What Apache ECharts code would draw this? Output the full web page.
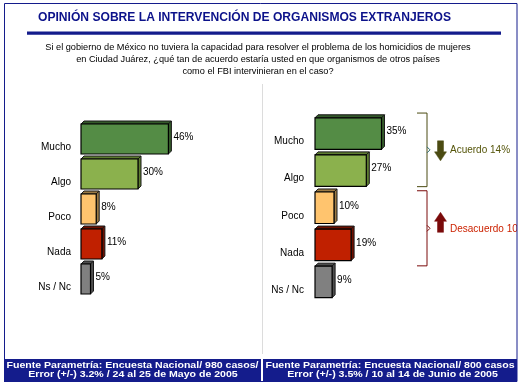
<!DOCTYPE html>
<html><head><meta charset="utf-8">
<script src="https://cdn.jsdelivr.net/npm/echarts@6/dist/echarts.min.js"></script>
<style>html,body{margin:0;padding:0;background:#fff}#c{width:521px;height:391px}</style>
</head><body><div id="c"></div>
<script>
var categories = ['Mucho', 'Algo', 'Poco', 'Nada', 'Ns / Nc'];
var valuesMayo = [46, 30, 8, 11, 5];
var valuesJunio = [35, 27, 10, 19, 9];
var frontColors = ['#548c45', '#8bb14d', '#ffc46e', '#c02000', '#808080'];
var sideColors = ['#345a2a', '#5d7c30', '#9c7a44', '#6e1000', '#4e4e4e'];
var titleText = 'OPINIÓN SOBRE LA INTERVENCIÓN DE ORGANISMOS EXTRANJEROS';
var questionLines = [
  'Si el gobierno de México no tuviera la capacidad para resolver el problema de los homicidios de mujeres',
  'en Ciudad Juárez, ¿qué tan de acuerdo estaría usted en que organismos de otros países',
  'como el FBI intervinieran en el caso?'
];
var footerLeft = ['Fuente Parametría: Encuesta Nacional/ 980 casos/', 'Error (+/-) 3.2% / 24 al 25 de Mayo de 2005'];
var footerRight = ['Fuente Parametría: Encuesta Nacional/ 800 casos', 'Error (+/-) 3.5% / 10 al 14 de Junio de 2005'];
var acuerdoText = 'Acuerdo 14%';
var desacuerdoText = 'Desacuerdo 10%';

var FONT = 'Liberation Sans';
var D = 3;

function makeRender(ratio) {
  return function (params, api) {
    var v = api.value(0), idx = api.value(1);
    var s = api.coord([0, idx]);
    var e = api.coord([v, idx]);
    var bh = api.size([0, 1])[1] * ratio;
    var x0 = s[0], x1 = e[0], y0 = s[1] - bh / 2, y1 = s[1] + bh / 2;
    var i = params.dataIndex;
    var side = sideColors[i];
    return {
      type: 'group',
      children: [
        { type: 'polygon', shape: { points: [[x0, y0], [x0 + D, y0 - D], [x1 + D, y0 - D], [x1, y0]] },
          style: { fill: side, stroke: '#1a1a1a', lineWidth: 1 } },
        { type: 'polygon', shape: { points: [[x1, y0], [x1 + D, y0 - D], [x1 + D, y1 - D], [x1, y1]] },
          style: { fill: side, stroke: '#1a1a1a', lineWidth: 1 } },
        { type: 'rect', shape: { x: x0, y: y0, width: x1 - x0, height: bh },
          style: { fill: frontColors[i], stroke: '#000', lineWidth: 1.2 } },
        { type: 'text', x: x1 + D + 2, y: s[1] - 2,
          style: { text: v + '%', fill: '#000', font: '10px "' + FONT + '"', verticalAlign: 'middle', align: 'left' } }
      ]
    };
  };
}

function yAx(gridIndex, margin) {
  return {
    type: 'category', gridIndex: gridIndex, data: categories, inverse: true,
    axisLine: { show: false }, axisTick: { show: false }, splitLine: { show: false },
    axisLabel: { margin: margin, color: '#000', fontFamily: FONT, fontSize: 10,
      verticalAlign: 'top', lineHeight: 16 }
  };
}
function xAx(gridIndex) {
  return { type: 'value', gridIndex: gridIndex, min: 0, max: 100, show: false, splitLine: { show: false } };
}

var chart = echarts.init(document.getElementById('c'), null, { renderer: 'canvas' });
var option = {
  animation: false,
  grid: [
    { left: 81, top: 121.5, width: 190, height: 175 },
    { left: 315, top: 115, width: 190, height: 185.5 }
  ],
  xAxis: [xAx(0), xAx(1)],
  yAxis: [yAx(0, 10), yAx(1, 11)],
  series: [
    { type: 'custom', xAxisIndex: 0, yAxisIndex: 0, renderItem: makeRender(0.857),
      encode: { x: 0, y: 1 }, data: valuesMayo.map(function (v, i) { return [v, i]; }) },
    { type: 'custom', xAxisIndex: 1, yAxisIndex: 1, renderItem: makeRender(0.85),
      encode: { x: 0, y: 1 }, data: valuesJunio.map(function (v, i) { return [v, i]; }) }
  ]
};
chart.setOption(option);

// annotations
var cy = function (cat) { return chart.convertToPixel({ yAxisIndex: 1 }, cat); };
var aTop = cy('Mucho') - 20.5, aBot = cy('Algo') + 16, aMid = (aTop + aBot) / 2;
var dTop = cy('Poco') - 17, dBot = cy('Nada') + 21, dMid = (dTop + dBot) / 2;
var BX = 427, BL = 417;
var olive = '#4b4b12', red = '#7a0a0a';

function bracket(top, bot, mid, color, tipColor) {
  return [
    { type: 'polyline', shape: { points: [[BL, top], [BX, top], [BX, bot], [BL, bot]] },
      style: { stroke: color, lineWidth: 1, fill: null } },
    { type: 'polyline', shape: { points: [[BX, mid - 3], [BX + 3, mid], [BX, mid + 3]] },
      style: { stroke: tipColor, lineWidth: 1, fill: null } }
  ];
}

function footText(x, y, t) {
  return { type: 'text', x: x, y: y, scaleX: 1.23,
    style: { text: t, fill: '#fff', font: 'bold 8.6px "' + FONT + '"', align: 'center', verticalAlign: 'middle' } };
}

var g = [
  // outer frame
  { type: 'rect', shape: { x: 4.5, y: 3.5, width: 512.5, height: 378 }, style: { fill: null, stroke: '#141c8c', lineWidth: 1 }, z: 10 },
  // title
  { type: 'text', x: 244.5, y: 18, style: { text: titleText, fill: '#0c128a', font: 'bold 12.1px "' + FONT + '"', align: 'center', verticalAlign: 'middle' } },
  { type: 'rect', shape: { x: 27, y: 31.5, width: 474, height: 3.2 }, style: { fill: '#141c8c' } },
  // divider
  { type: 'line', shape: { x1: 262.5, y1: 84, x2: 262.5, y2: 354 }, style: { stroke: '#dcdcdc', lineWidth: 1 } },
  // footer
  { type: 'rect', shape: { x: 4, y: 359, width: 257, height: 23 }, style: { fill: '#141c8c' } },
  { type: 'rect', shape: { x: 263, y: 359, width: 254, height: 23 }, style: { fill: '#141c8c' } },
  footText(132.5, 365.5, footerLeft[0]),
  footText(133, 374.5, footerLeft[1]),
  footText(390, 365.5, footerRight[0]),
  footText(392.5, 374.5, footerRight[1]),
  // arrows
  { type: 'polygon', shape: { points: [[437.5, aMid - 9], [443.5, aMid - 9], [443.5, aMid + 2], [446.5, aMid + 2], [440.5, aMid + 11], [434.5, aMid + 2], [437.5, aMid + 2]] },
    style: { fill: olive, stroke: olive, lineWidth: 0.5 } },
  { type: 'polygon', shape: { points: [[437.5, dMid + 4], [443.5, dMid + 4], [443.5, dMid - 7], [446.5, dMid - 7], [440.5, dMid - 16], [434.5, dMid - 7], [437.5, dMid - 7]] },
    style: { fill: red, stroke: red, lineWidth: 0.5 } },
  { type: 'text', x: 450, y: aMid, style: { text: acuerdoText, fill: '#55550a', font: '10px "' + FONT + '"', verticalAlign: 'middle' } },
  { type: 'text', x: 450, y: dMid + 1, style: { text: desacuerdoText, fill: '#cc2200', font: '10px "' + FONT + '"', verticalAlign: 'middle' } },
  // mask beyond right frame
  { type: 'rect', shape: { x: 517, y: 0, width: 10, height: 391 }, style: { fill: '#fff' }, z: 5 }
].concat(bracket(aTop, aBot, aMid, olive, '#2f6b6b'), bracket(dTop, dBot, dMid, red, red));

questionLines.forEach(function (t, i) {
  g.push({ type: 'text', x: 258, y: 47 + i * 12, style: { text: t, fill: '#000', font: '9.2px "' + FONT + '"', align: 'center', verticalAlign: 'middle' } });
});

chart.setOption({ graphic: g });
</script>
</body></html>
